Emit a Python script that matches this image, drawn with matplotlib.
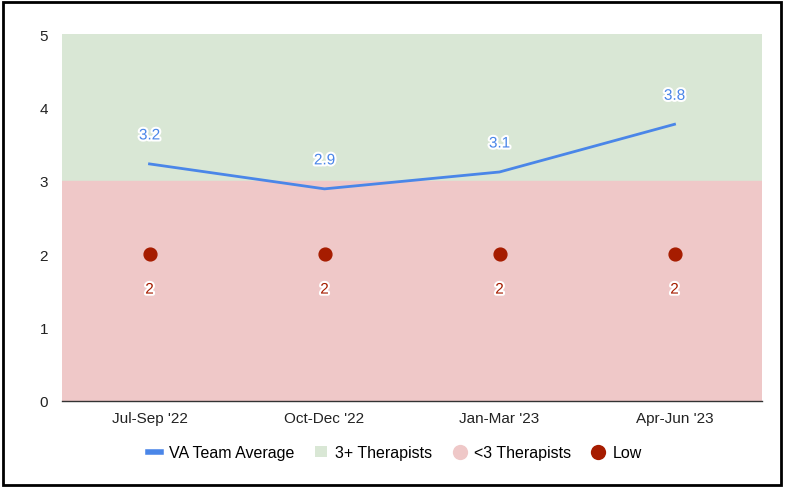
import matplotlib.pyplot as plt
import matplotlib.patheffects as pe
from matplotlib.lines import Line2D
from matplotlib.patches import Patch

plt.rcParams['font.family'] = ['Liberation Sans', 'DejaVu Sans']

quarters = ["Jul-Sep '22", "Oct-Dec '22", "Jan-Mar '23", "Apr-Jun '23"]
team_avg = [3.23, 2.89, 3.12, 3.77]
low = [2, 2, 2, 2]
band_split = 3
y_max = 5

blue = '#4a86e8'
green = '#d9e7d5'
red = '#efc8c8'
dark_red = '#a61c00'

fig = plt.figure(figsize=(7.85, 4.89), dpi=100)
ax = fig.add_axes([0.079, 0.178, 0.8917, 0.7504])

x = list(range(len(quarters)))
ax.axhspan(band_split, y_max, color=green, zorder=0)
ax.axhspan(0, band_split, color=red, zorder=0)

ax.plot(x, team_avg, color=blue, lw=2, zorder=3)
ax.scatter(x, low, s=85, color=dark_red, zorder=4)

stroke = [pe.withStroke(linewidth=3, foreground='white')]
for xi, v in zip(x, team_avg):
    ax.annotate(f'{v:.1f}', (xi, v), xytext=(0, 20.5), textcoords='offset points',
                ha='center', va='center', fontsize=11, color=blue, path_effects=stroke)
for xi, v in zip(x, low):
    ax.annotate(f'{v}', (xi, v), xytext=(0, -25.5), textcoords='offset points',
                ha='center', va='center', fontsize=11, color=dark_red, path_effects=stroke)

ax.set_xlim(-0.5, len(quarters) - 0.5)
ax.set_ylim(0, y_max)
ax.set_xticks(x)
ax.set_xticklabels(quarters)
ax.set_yticks(range(0, y_max + 1))
ax.tick_params(length=0, labelsize=11, colors='#222222')
ax.tick_params(axis='y', pad=10)
ax.tick_params(axis='x', pad=7)
for s in ['top', 'right', 'left']:
    ax.spines[s].set_visible(False)
ax.spines['bottom'].set_color('#333333')
ax.spines['bottom'].set_linewidth(1)
ax.spines['bottom'].set_zorder(5)

handles = [
    Line2D([0], [0], color=blue, lw=4),
    Patch(facecolor=green, edgecolor='none'),
    Line2D([0], [0], marker='o', color='none', markerfacecolor=red, markeredgecolor='none', markersize=11),
    Line2D([0], [0], marker='o', color='none', markerfacecolor=dark_red, markeredgecolor='none', markersize=11),
]
labels = ['VA Team Average', '3+ Therapists', '<3 Therapists', 'Low']
fig.legend(handles, labels, loc='center', bbox_to_anchor=(0.503, 0.072), ncol=4,
           frameon=False, fontsize=11.5, handlelength=0.8, handletextpad=0.5, columnspacing=1.3)

border = plt.Rectangle((0.004, 0.006), 0.991, 0.988, transform=fig.transFigure,
                       fill=False, edgecolor='black', lw=2)
fig.patches.append(border)

fig.savefig('out.png', dpi=100)
